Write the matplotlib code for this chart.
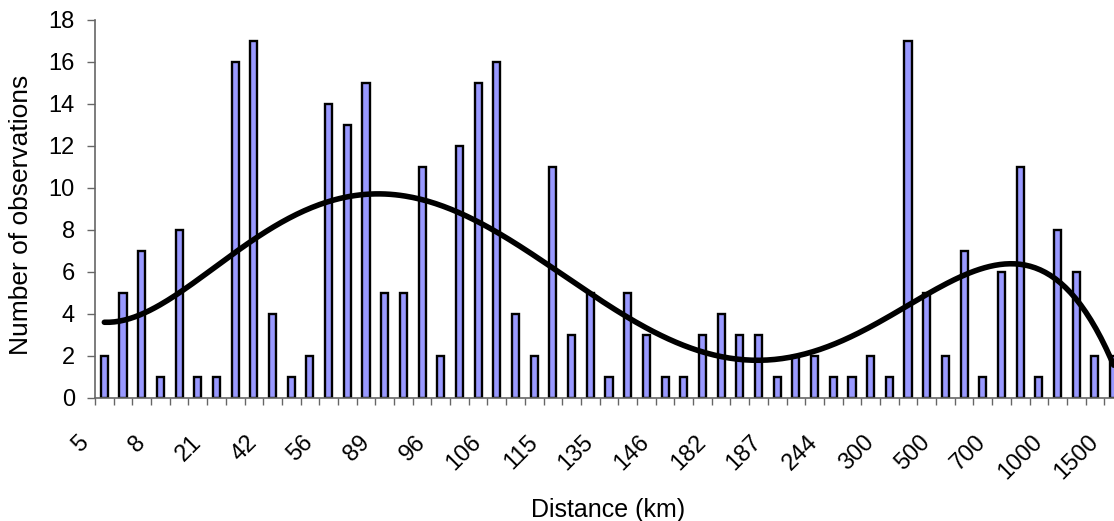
import numpy as np
import matplotlib
matplotlib.use("Agg")
import matplotlib.pyplot as plt
from matplotlib.transforms import ScaledTranslation

plt.rcParams['font.family'] = ['Liberation Sans', 'DejaVu Sans']

# === data ===
counts = [2, 5, 7, 1, 8, 1, 1, 16, 17, 4, 1, 2, 14, 13, 15, 5, 5, 11,
          2, 12, 15, 16, 4, 2, 11, 3, 5, 1, 5, 3, 1, 1, 3, 4, 3, 3,
          1, 2, 2, 1, 1, 2, 1, 17, 5, 2, 7, 1, 6, 11, 1, 8, 6, 2, 2]
tick_labels = ['5', '8', '21', '42', '56', '89', '96', '106', '115', '135',
               '146', '182', '187', '244', '300', '500', '700', '1000', '1500']
label_step = 3
trend_order = 6

x = np.arange(len(counts))

fig = plt.figure(figsize=(11.14, 5.21), dpi=100)
ax = fig.add_axes([95 / 1114, 123 / 521, 1 - 95 / 1114, 378 / 521])

ax.bar(x, counts, width=0.38, color='#9999FF', edgecolor='black', linewidth=1.7, zorder=2)

# polynomial trendline (as in the spreadsheet)
coef = np.polyfit(x, counts, trend_order)
xs = np.linspace(0, len(counts) - 1, 400)
ax.plot(xs, np.polyval(coef, xs), color='black', linewidth=4, zorder=3,
        solid_capstyle='round')

ax.set_xlim(-0.5, len(counts) - 1 + 0.02)
ax.set_ylim(0, 18)
ax.set_yticks(np.arange(0, 19, 2))

ax.set_xticks(x[::label_step])
ax.set_xticklabels(tick_labels, rotation=45, ha='right', va='top')
ax.set_xticks(np.arange(-0.5, len(counts) - 0.5, 1), minor=True)
ax.tick_params(axis='x', which='major', length=0, pad=24, labelsize=17)
ax.tick_params(axis='x', which='minor', length=5, width=1, color='#666666', direction='out')
ax.tick_params(axis='y', length=5.5, width=1, color='#666666', pad=9, labelsize=17)

offset = ScaledTranslation(-11 / 100, 0, fig.dpi_scale_trans)
for lab in ax.get_xticklabels():
    lab.set_transform(lab.get_transform() + offset)

for side in ['top', 'right']:
    ax.spines[side].set_visible(False)
for side in ['left', 'bottom']:
    ax.spines[side].set_color('#666666')
    ax.spines[side].set_linewidth(1.2)

fig.text(608 / 1114, 1 - 517 / 521, 'Distance (km)', ha='center', va='baseline', fontsize=18)
fig.text(21 / 1114, 1 - 215 / 521, 'Number of observations', ha='center', va='center',
         rotation=90, fontsize=19)

fig.savefig('out.png', dpi=100)
